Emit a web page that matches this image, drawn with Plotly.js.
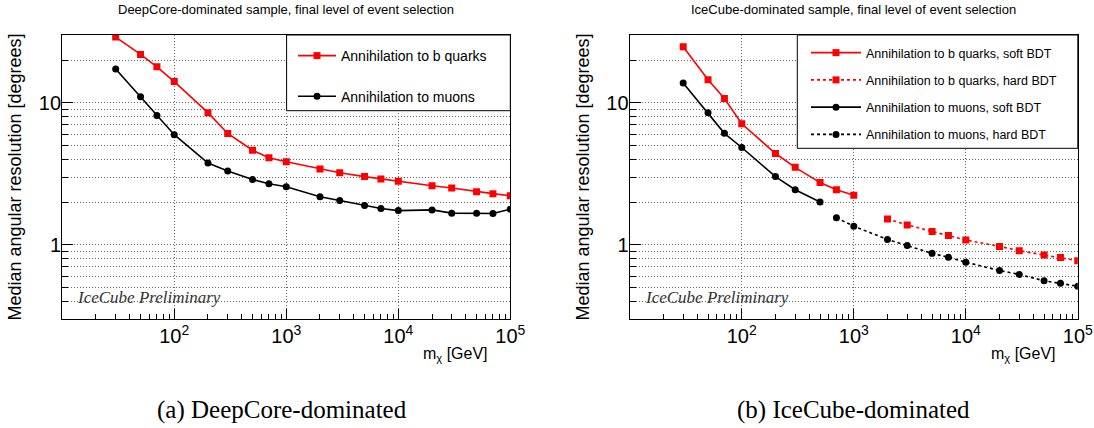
<!DOCTYPE html>
<html>
<head>
<meta charset="utf-8">
<script src="https://cdn.plot.ly/plotly-3.0.1.min.js"></script>
<style>html,body{margin:0;padding:0;background:#fff;}#chart{width:1094px;height:428px;}</style>
</head>
<body>
<div id="chart"></div>
<script>
// ---------- data ----------
const massDC = [30, 50, 70, 100, 200, 300, 500, 700, 1000, 2000, 3000, 5000, 7000, 10000, 20000, 30000, 50000, 70000, 100000];
const bQuarksDC = [29.0, 21.9, 17.9, 14.1, 8.52, 6.08, 4.63, 4.10, 3.84, 3.42, 3.21, 3.02, 2.91, 2.80, 2.60, 2.51, 2.36, 2.29, 2.21];
const muonsDC = [17.3, 11.0, 8.12, 5.96, 3.76, 3.31, 2.88, 2.69, 2.56, 2.18, 2.05, 1.89, 1.80, 1.74, 1.76, 1.67, 1.67, 1.66, 1.78];

const massBSoft = [30, 50, 70, 100, 200, 300, 500, 700, 1000];
const bQuarksSoft = [24.8, 14.5, 10.7, 7.11, 4.39, 3.51, 2.74, 2.44, 2.23];
const massBHard = [2000, 3000, 5000, 7000, 10000, 20000, 30000, 50000, 70000, 100000];
const bQuarksHard = [1.52, 1.38, 1.24, 1.16, 1.08, 0.974, 0.908, 0.847, 0.812, 0.770];
const massMuSoft = [30, 50, 70, 100, 200, 300, 500];
const muonsSoft = [13.8, 8.52, 6.09, 4.84, 3.02, 2.44, 2.00];
const massMuHard = [700, 1000, 2000, 3000, 5000, 7000, 10000, 20000, 30000, 50000, 70000, 100000];
const muonsHard = [1.55, 1.35, 1.09, 0.989, 0.870, 0.816, 0.753, 0.659, 0.618, 0.558, 0.535, 0.510];

const legendNamesDC = ['Annihilation to b quarks', 'Annihilation to muons'];
const legendNamesIC = ['Annihilation to b quarks, soft BDT', 'Annihilation to b quarks, hard BDT',
                       'Annihilation to muons, soft BDT', 'Annihilation to muons, hard BDT'];
const panelTitles = ['DeepCore-dominated sample, final level of event selection',
                     'IceCube-dominated sample, final level of event selection'];
const captions = ['(a) DeepCore-dominated', '(b) IceCube-dominated'];
const yTitle = 'Median angular resolution [degrees]';
const xTitle = 'm<sub>χ</sub> [GeV]';
const watermark = 'IceCube Preliminary';

// ---------- helpers: pixel -> paper ----------
const W = 1094, H = 428;
const px = v => v / W;
const py = v => 1 - v / H;

const SANS = 'Liberation Sans, Arial, Helvetica, sans-serif';
const SERIF = 'Liberation Serif, Times New Roman, serif';
const RED = '#ff0000';

function tr(x, y, name, color, symbol, dash, xa, ya, leg, grp) {
  return {
    x: x, y: y, name: name, type: 'scatter', mode: 'lines+markers',
    xaxis: xa, yaxis: ya, legend: leg, legendgroup: grp,
    line: {color: color, width: 1.6, dash: dash},
    marker: {color: color, symbol: symbol, size: 7, line: {width: 0}}
  };
}

const traces = [
  tr(massDC, bQuarksDC, legendNamesDC[0], RED, 'square', 'solid', 'x', 'y', 'legend', 'a'),
  tr(massDC, muonsDC, legendNamesDC[1], '#000', 'circle', 'solid', 'x', 'y', 'legend', 'b'),
  tr(massBSoft, bQuarksSoft, legendNamesIC[0], RED, 'square', 'solid', 'x2', 'y2', 'legend2', 'c'),
  tr(massBHard, bQuarksHard, legendNamesIC[1], RED, 'square', '3px,3px', 'x2', 'y2', 'legend2', 'd'),
  tr(massMuSoft, muonsSoft, legendNamesIC[2], '#000', 'circle', 'solid', 'x2', 'y2', 'legend2', 'e'),
  tr(massMuHard, muonsHard, legendNamesIC[3], '#000', 'circle', '3px,3px', 'x2', 'y2', 'legend2', 'f')
];

const GRID = '#666';
function xax(dom, anchor) {
  return {
    type: 'log', range: [1.0005, 5], domain: dom, anchor: anchor,
    dtick: 1, exponentformat: 'power',
    ticks: 'inside', ticklen: 10, tickcolor: '#000', tickwidth: 1,
    showline: true, linecolor: '#000', linewidth: 1, mirror: true,
    showgrid: true, gridcolor: GRID, griddash: '1px,2px', gridwidth: 1,
    zeroline: false,
    minor: {ticks: 'inside', ticklen: 5, dtick: 'D1', tickcolor: '#000', showgrid: false},
    tickfont: {family: SANS, size: 16, color: '#000'}
  };
}
function yax(dom, anchor) {
  return {
    type: 'log', range: [Math.log10(0.3), Math.log10(30)], domain: dom, anchor: anchor,
    dtick: 1, exponentformat: 'power',
    ticks: 'inside', ticklen: 11, tickcolor: '#000', tickwidth: 1,
    showline: true, linecolor: '#000', linewidth: 1, mirror: true,
    showgrid: true, gridcolor: GRID, griddash: '1px,2px', gridwidth: 1,
    zeroline: false, ticklabelstandoff: -3,
    minor: {ticks: 'inside', ticklen: 6, dtick: 'D1', tickcolor: '#000', showgrid: true,
            gridcolor: GRID, griddash: '1px,2px', gridwidth: 1},
    tickfont: {family: SANS, size: 16, color: '#000'},
    title: {text: yTitle, font: {family: SANS, size: 18, color: '#000'}, standoff: 12}
  };
}

const L = [62.3, 510.3], R = [629.8, 1077.8];
const TOP = 35, BOT = 319;
const ydom = [py(BOT), py(TOP)];

const layout = {
  width: W, height: H,
  margin: {l: 0, r: 0, t: 0, b: 0},
  paper_bgcolor: '#fff', plot_bgcolor: '#fff',
  font: {family: SANS, color: '#000'},
  xaxis: xax([px(L[0]), px(L[1])], 'y'),
  yaxis: yax(ydom, 'x'),
  xaxis2: xax([px(R[0]), px(R[1])], 'y2'),
  yaxis2: yax(ydom, 'x2'),
  showlegend: true,
  legend: {
    x: px(293), y: py(40), xanchor: 'left', yanchor: 'top',
    bgcolor: 'rgba(0,0,0,0)', borderwidth: 0, traceorder: 'grouped', tracegroupgap: 19.5,
    itemwidth: 38, font: {family: SANS, size: 14, color: '#000'}
  },
  legend2: {
    x: px(806), y: py(38), xanchor: 'left', yanchor: 'top',
    bgcolor: 'rgba(0,0,0,0)', borderwidth: 0, traceorder: 'grouped', tracegroupgap: 8,
    itemwidth: 50, font: {family: SANS, size: 12.5, color: '#000'}
  },
  shapes: [
    {type: 'rect', xref: 'paper', yref: 'paper', x0: px(286.6), x1: px(L[1]), y0: py(110.7), y1: py(TOP),
     fillcolor: '#fff', line: {color: '#000', width: 1}, layer: 'above'},
    {type: 'rect', xref: 'paper', yref: 'paper', x0: px(797.3), x1: px(R[1]), y0: py(148.3), y1: py(TOP),
     fillcolor: '#fff', line: {color: '#000', width: 1}, layer: 'above'}
  ],
  annotations: [
    {text: panelTitles[0], xref: 'paper', yref: 'paper', x: px((L[0] + L[1]) / 2), y: py(9),
     xanchor: 'center', yanchor: 'middle', showarrow: false, font: {family: SANS, size: 13, color: '#000'}},
    {text: panelTitles[1], xref: 'paper', yref: 'paper', x: px((R[0] + R[1]) / 2), y: py(9),
     xanchor: 'center', yanchor: 'middle', showarrow: false, font: {family: SANS, size: 13, color: '#000'}},
    {text: watermark, xref: 'paper', yref: 'paper', x: px(L[0] + 12.7), y: py(297),
     xanchor: 'left', yanchor: 'middle', showarrow: false, font: {family: SERIF, size: 17, color: '#333', style: 'italic'}},
    {text: watermark, xref: 'paper', yref: 'paper', x: px(R[0] + 12.7), y: py(297),
     xanchor: 'left', yanchor: 'middle', showarrow: false, font: {family: SERIF, size: 17, color: '#333', style: 'italic'}},
    {text: xTitle, xref: 'paper', yref: 'paper', x: px(L[1] - 20), y: py(354),
     xanchor: 'right', yanchor: 'middle', showarrow: false, font: {family: SANS, size: 16, color: '#000'}},
    {text: xTitle, xref: 'paper', yref: 'paper', x: px(R[1] - 20), y: py(354),
     xanchor: 'right', yanchor: 'middle', showarrow: false, font: {family: SANS, size: 16, color: '#000'}},
    {text: captions[0], xref: 'paper', yref: 'paper', x: px(282), y: py(410),
     xanchor: 'center', yanchor: 'middle', showarrow: false, font: {family: SERIF, size: 25, color: '#000'}},
    {text: captions[1], xref: 'paper', yref: 'paper', x: px((R[0] + R[1]) / 2), y: py(410),
     xanchor: 'center', yanchor: 'middle', showarrow: false, font: {family: SERIF, size: 25, color: '#000'}}
  ]
};

Plotly.newPlot('chart', traces, layout, {staticPlot: true, displayModeBar: false});
</script>
</body>
</html>
